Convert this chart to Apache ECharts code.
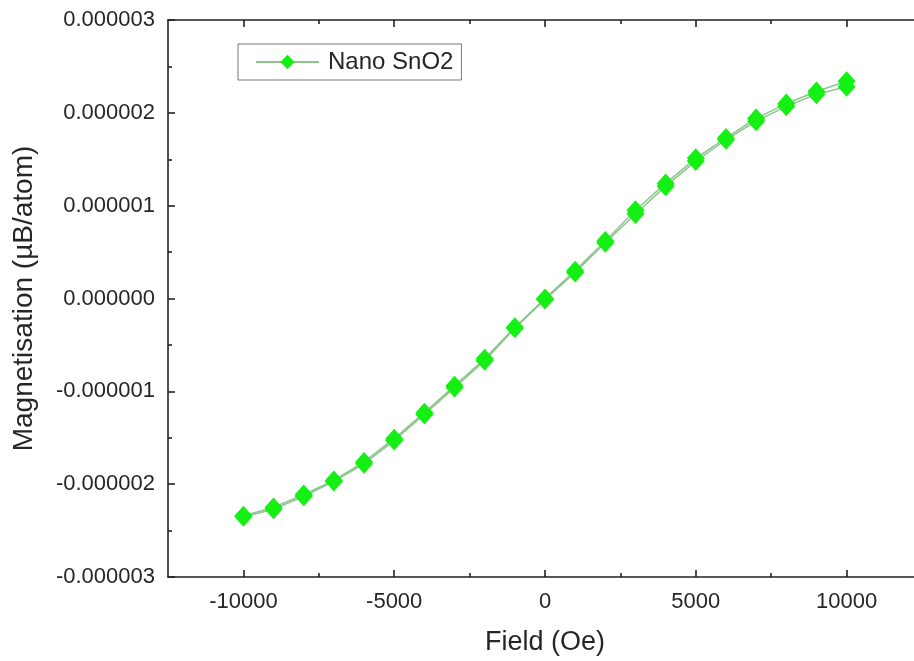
<!DOCTYPE html>
<html>
<head>
<meta charset="utf-8">
<script src="https://cdn.jsdelivr.net/npm/echarts@6/dist/echarts.min.js"></script>
<style>
html,body{margin:0;padding:0;background:#fff;overflow:hidden;}
#chart{width:914px;height:661px;}
</style>
</head>
<body>
<div id="chart"></div>
<script>
// Data (magnetisation in units of 1e-6 µB/atom)
const fields = [-10000,-9000,-8000,-7000,-6000,-5000,-4000,-3000,-2000,-1000,0,1000,2000,3000,4000,5000,6000,7000,8000,9000,10000];
const branchA = [-2.34,-2.25,-2.11,-1.96,-1.76,-1.51,-1.23,-0.94,-0.65,-0.31,0.00,0.30,0.62,0.95,1.24,1.51,1.73,1.94,2.10,2.23,2.34];
const branchB = [-2.35,-2.27,-2.13,-1.97,-1.78,-1.53,-1.25,-0.96,-0.67,-0.32,-0.01,0.28,0.60,0.91,1.21,1.48,1.71,1.91,2.07,2.20,2.28];
const xMajor = [-10000,-5000,0,5000,10000];
const xMinor = [-7500,-2500,2500,7500];
const seriesName = 'Nano SnO2';

const toPairs = (vals) => fields.map((f,i)=>[f, vals[i]*1e-6]);

const font = "'Liberation Sans', Arial, sans-serif";
const axisColor = '#222';
const textColor = '#262626';
const lineColor = '#8cc48c';
const markColor = '#14f014';

function xAx(pos, ticks, len, showLine, showLabel) {
  return {
    type:'value', position:pos, min:-12500, max:12500,
    axisLine:{show:showLine, onZero:false, lineStyle:{color:axisColor, width:1.6}},
    axisTick:{show:true, inside:true, length:len, customValues:ticks, lineStyle:{color:axisColor, width:1.6}},
    axisLabel:{show:showLabel, customValues:ticks, color:textColor, fontSize:22, fontFamily:font, margin:14,
      formatter:(v)=>String(v)},
    splitLine:{show:false}
  };
}

const chart = echarts.init(document.getElementById('chart'));
chart.setOption({
  animation:false,
  backgroundColor:'#fff',
  grid:{left:168, top:20, width:754, height:557, containLabel:false, outerBoundsMode:'none'},
  legend:{
    data:[seriesName], left:238, top:44,
    padding:[6,8,6,17],
    borderColor:'#777', borderWidth:1,
    itemWidth:63, itemHeight:18, itemGap:5,
    textStyle:{fontSize:24, fontFamily:font, color:textColor, padding:[0,0,0,4]}
  },
  xAxis:[
    Object.assign(xAx('bottom', xMajor, 7, true, true), {
      name:'Field (Oe)', nameLocation:'middle', nameGap:52,
      nameTextStyle:{fontSize:27, fontFamily:font, color:textColor}
    }),
    xAx('bottom', xMinor, 4, false, false),
    xAx('top', xMajor, 7, true, false),
    xAx('top', xMinor, 4, false, false)
  ],
  yAxis:[
    {
      type:'value', position:'left', min:-3e-6, max:3e-6, interval:1e-6,
      name:'Magnetisation (µB/atom)', nameLocation:'middle', nameGap:130, nameRotate:90,
      nameTextStyle:{fontSize:28, fontFamily:font, color:textColor},
      axisLine:{show:true, onZero:false, lineStyle:{color:axisColor, width:1.6}},
      axisTick:{inside:true, length:7, lineStyle:{color:axisColor, width:1.6}},
      minorTick:{show:true, splitNumber:2, length:4, lineStyle:{color:axisColor, width:1.6}},
      axisLabel:{color:textColor, fontSize:22, fontFamily:font, margin:13,
        formatter:(v)=>{ const s=(Math.round(v*1e7)/1e7).toFixed(6); return s==='-0.000000'?'0.000000':s; }},
      splitLine:{show:false}
    },
    {
      type:'value', position:'right', min:-3e-6, max:3e-6, interval:1e-6,
      axisLine:{show:true, onZero:false, lineStyle:{color:axisColor, width:1.6}},
      axisTick:{inside:true, length:7, lineStyle:{color:axisColor, width:1.6}},
      minorTick:{show:true, splitNumber:2, length:4, lineStyle:{color:axisColor, width:1.6}},
      axisLabel:{show:false},
      splitLine:{show:false}
    }
  ],
  series:[
    {
      name:seriesName, type:'line', data:toPairs(branchA),
      symbol:'diamond', symbolSize:[18,20],
      lineStyle:{color:lineColor, width:1.5},
      itemStyle:{color:markColor}
    },
    {
      name:seriesName, type:'line', data:toPairs(branchB),
      symbol:'diamond', symbolSize:[18,20],
      lineStyle:{color:lineColor, width:1.5},
      itemStyle:{color:markColor}
    }
  ]
});
</script>
</body>
</html>
